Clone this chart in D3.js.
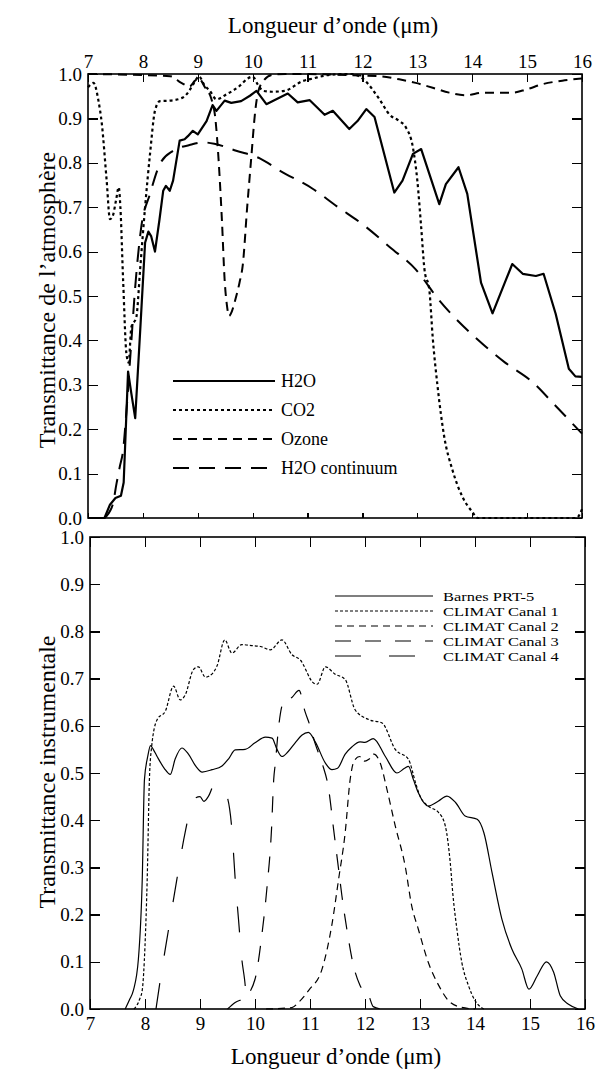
<!DOCTYPE html>
<html lang="fr">
<head>
<meta charset="UTF-8">
<title>Transmittance</title>
<script src="https://d3js.org/d3.v7.min.js"></script>
<style>
    body { margin: 0; background: #fff; }
    svg { display: block; font-family: "Liberation Serif", "DejaVu Serif", "Times New Roman", Times, serif; }
    .axis path { display: none; }
    .axis line { stroke: #000; stroke-width: 1.2; shape-rendering: crispEdges; }
    .axis text { font-family: "Liberation Serif", "DejaVu Serif", "Times New Roman", Times, serif; font-size: 19px; fill: #000; }
    .frame { fill: none; stroke: #000; stroke-width: 1.6; }
</style>
</head>
<body>
<script>
    // graduations
    const xTicks = [7, 8, 9, 10, 11, 12, 13, 14, 15, 16];
    const yTicks = [0, 0.1, 0.2, 0.3, 0.4, 0.5, 0.6, 0.7, 0.8, 0.9, 1.0];

    // panneau du haut : transmittance de l'atmosphère [longueur d'onde, transmittance]
    const h2o = [[7,0],[7.3,0],[7.4,0.03],[7.5,0.045],[7.6,0.05],[7.65,0.08],[7.73,0.33],[7.79,0.28],[7.86,0.225],
        [7.95,0.42],[8.04,0.62],[8.1,0.645],[8.15,0.635],[8.22,0.6],[8.3,0.67],[8.37,0.737],[8.42,0.748],[8.49,0.737],
        [8.55,0.76],[8.67,0.85],[8.76,0.853],[8.82,0.86],[8.91,0.872],[9.0,0.864],[9.16,0.894],[9.27,0.93],[9.34,0.917],
        [9.49,0.94],[9.61,0.935],[9.79,0.939],[9.95,0.951],[10.07,0.962],[10.25,0.932],[10.43,0.943],[10.64,0.956],
        [10.82,0.936],[11.04,0.941],[11.19,0.923],[11.31,0.908],[11.46,0.917],[11.76,0.876],[11.91,0.894],[12.07,0.921],
        [12.22,0.903],[12.58,0.733],[12.73,0.76],[12.92,0.82],[13.07,0.831],[13.4,0.707],[13.52,0.752],[13.75,0.79],
        [13.91,0.73],[14.16,0.53],[14.37,0.461],[14.61,0.535],[14.73,0.572],[14.92,0.55],[15.16,0.545],[15.3,0.55],
        [15.52,0.46],[15.76,0.336],[15.88,0.319],[16,0.318]];
    const co2 = [[7,0.97],[7.1,0.98],[7.19,0.94],[7.25,0.89],[7.34,0.76],[7.4,0.673],[7.45,0.68],[7.51,0.715],
        [7.56,0.745],[7.59,0.7],[7.64,0.535],[7.7,0.37],[7.74,0.35],[7.79,0.43],[7.88,0.452],[7.95,0.56],[8.0,0.64],
        [8.04,0.7],[8.13,0.82],[8.22,0.917],[8.31,0.939],[8.49,0.94],[8.73,0.947],[8.88,0.969],[8.97,0.988],[9.02,0.995],
        [9.12,0.975],[9.22,0.962],[9.34,0.943],[9.52,0.954],[9.76,0.973],[9.91,0.99],[10.0,0.994],[10.1,0.975],
        [10.19,0.962],[10.35,0.96],[10.58,0.962],[10.91,0.984],[11.1,0.99],[11.4,0.998],[11.8,1.0],[12.0,0.99],
        [12.31,0.943],[12.49,0.909],[12.67,0.894],[12.79,0.88],[12.92,0.834],[13.0,0.76],[13.07,0.655],[13.13,0.56],
        [13.22,0.512],[13.28,0.407],[13.37,0.295],[13.49,0.183],[13.64,0.108],[13.82,0.048],[14.0,0.014],[14.1,0],
        [15.9,0],[16,0.02]];
    const ozone = [[7,1.0],[8.5,0.995],[8.7,0.98],[8.85,0.972],[8.95,0.985],[9.02,0.99],[9.13,0.97],[9.25,0.943],
        [9.32,0.9],[9.38,0.805],[9.44,0.67],[9.49,0.535],[9.53,0.48],[9.57,0.455],[9.62,0.465],[9.68,0.49],[9.76,0.53],
        [9.82,0.57],[9.9,0.7],[9.97,0.805],[10.05,0.92],[10.1,0.96],[10.2,0.985],[10.35,0.998],[10.6,1.0],[12.3,0.995],
        [12.67,0.988],[12.97,0.98],[13.28,0.969],[13.58,0.958],[13.88,0.952],[14.2,0.958],[14.73,0.958],[14.98,0.965],
        [15.28,0.977],[15.64,0.985],[16,0.99]];
    const continuum = [[7.3,0],[7.45,0.03],[7.52,0.078],[7.58,0.116],[7.64,0.153],[7.7,0.24],[7.78,0.38],[7.86,0.52],
        [7.97,0.655],[8.13,0.73],[8.31,0.797],[8.55,0.827],[8.85,0.84],[9.1,0.846],[9.3,0.843],[9.7,0.827],[10.13,0.81],
        [10.5,0.782],[11.1,0.741],[11.5,0.705],[12.07,0.655],[12.5,0.61],[12.97,0.56],[13.4,0.49],[14.19,0.392],
        [14.6,0.35],[15.1,0.306],[15.5,0.255],[16,0.19]];

    // panneau du bas : transmittance instrumentale
    const barnes = [[7.64,0],[7.72,0.02],[7.79,0.04],[7.88,0.106],[7.95,0.275],[7.99,0.486],[8.05,0.535],[8.1,0.558],
        [8.15,0.55],[8.22,0.535],[8.35,0.51],[8.46,0.497],[8.55,0.53],[8.67,0.553],[8.79,0.54],[8.92,0.515],[9.04,0.502],
        [9.22,0.507],[9.4,0.515],[9.52,0.53],[9.64,0.549],[9.82,0.55],[10.0,0.564],[10.19,0.576],[10.31,0.574],
        [10.4,0.55],[10.49,0.535],[10.6,0.545],[10.73,0.564],[10.85,0.58],[10.97,0.586],[11.1,0.565],[11.28,0.521],
        [11.4,0.507],[11.5,0.51],[11.64,0.54],[11.76,0.555],[11.91,0.566],[12.0,0.565],[12.15,0.573],[12.37,0.535],
        [12.58,0.5],[12.72,0.51],[12.79,0.514],[12.88,0.486],[12.97,0.458],[13.15,0.43],[13.33,0.44],[13.49,0.451],
        [13.65,0.437],[13.82,0.409],[14.04,0.402],[14.16,0.374],[14.31,0.289],[14.49,0.19],[14.67,0.127],[14.85,0.085],
        [14.98,0.042],[15.13,0.07],[15.3,0.1],[15.43,0.078],[15.55,0.028],[15.7,0.01],[15.88,0]];
    const canal1 = [[7.8,0],[7.9,0.02],[7.95,0.04],[8.0,0.134],[8.04,0.275],[8.08,0.486],[8.12,0.555],[8.22,0.613],
        [8.37,0.631],[8.52,0.684],[8.64,0.655],[8.73,0.665],[8.88,0.719],[8.97,0.725],[9.1,0.703],[9.16,0.705],
        [9.31,0.727],[9.45,0.782],[9.58,0.754],[9.76,0.772],[9.94,0.77],[10.1,0.768],[10.28,0.761],[10.49,0.782],
        [10.67,0.751],[10.82,0.74],[11.07,0.69],[11.13,0.688],[11.28,0.725],[11.45,0.71],[11.64,0.698],[11.82,0.634],
        [12.07,0.613],[12.31,0.606],[12.55,0.55],[12.79,0.529],[12.92,0.479],[13.0,0.451],[13.15,0.43],[13.34,0.416],
        [13.46,0.388],[13.55,0.31],[13.6,0.24],[13.67,0.17],[13.76,0.099],[13.88,0.05],[14.0,0.018],[14.16,0]];
    const canal2 = [[10.2,0],[10.67,0.003],[10.8,0.015],[10.98,0.04],[11.22,0.085],[11.4,0.18],[11.52,0.275],
        [11.64,0.374],[11.73,0.486],[11.8,0.525],[11.9,0.535],[12.0,0.525],[12.07,0.529],[12.16,0.54],[12.28,0.52],
        [12.4,0.465],[12.55,0.388],[12.73,0.303],[12.85,0.218],[12.97,0.169],[13.15,0.099],[13.34,0.05],[13.5,0.02],
        [13.7,0.005],[14.0,0]];
    const canal3 = [[9.5,0],[9.64,0.014],[9.82,0.025],[10.0,0.063],[10.13,0.162],[10.22,0.26],[10.3,0.38],
        [10.34,0.486],[10.37,0.521],[10.43,0.598],[10.52,0.651],[10.67,0.66],[10.8,0.675],[10.91,0.63],[11.0,0.6],
        [11.1,0.56],[11.22,0.521],[11.34,0.465],[11.43,0.38],[11.52,0.296],[11.58,0.24],[11.67,0.169],[11.79,0.092],
        [11.91,0.05],[12.07,0.028],[12.15,0.005],[12.3,0]];
    const canal4 = [[8.2,0],[8.28,0.063],[8.43,0.17],[8.58,0.275],[8.73,0.374],[8.88,0.444],[9.0,0.45],[9.07,0.44],
        [9.15,0.45],[9.28,0.479],[9.38,0.47],[9.49,0.451],[9.58,0.38],[9.64,0.275],[9.7,0.19],[9.76,0.106],
        [9.81,0.063],[9.85,0.02],[9.9,0]];

    const width = 596, height = 1073;
    const svg = d3.select('body').append('svg').attr('width', width).attr('height', height);

    // echelles
    const xTop = d3.scaleLinear().domain([7, 16]).range([88, 582]);
    const yTop = d3.scaleLinear().domain([0, 1]).range([518, 74]);
    const xBot = d3.scaleLinear().domain([7, 16]).range([90, 585]);
    const yBot = d3.scaleLinear().domain([0, 1]).range([1009, 537]);

    const fmt = d3.format('.1f');

    function drawAxes(x, y, labelTop) {
        svg.append('g').attr('class', 'axis').attr('transform', 'translate(0,' + y.range()[1] + ')')
            .call(d3.axisTop(x).tickValues(xTicks).tickSizeInner(labelTop ? -8 : -10).tickSizeOuter(0).tickPadding(6)
                .tickFormat(labelTop ? d3.format('d') : ''));
        svg.append('g').attr('class', 'axis').attr('transform', 'translate(0,' + y.range()[0] + ')')
            .call(d3.axisBottom(x).tickValues(xTicks).tickSizeInner(labelTop ? -5 : -10).tickSizeOuter(0).tickPadding(8)
                .tickFormat(labelTop ? '' : d3.format('d')));
        svg.append('g').attr('class', 'axis').attr('transform', 'translate(' + x.range()[0] + ',0)')
            .call(d3.axisLeft(y).tickValues(yTicks).tickSizeInner(-10).tickSizeOuter(0).tickPadding(6).tickFormat(fmt));
        svg.append('g').attr('class', 'axis').attr('transform', 'translate(' + x.range()[1] + ',0)')
            .call(d3.axisRight(y).tickValues(yTicks).tickSizeInner(-10).tickSizeOuter(0).tickFormat(''));
        svg.append('rect').attr('class', 'frame')
            .attr('x', x.range()[0]).attr('y', y.range()[1])
            .attr('width', x.range()[1] - x.range()[0]).attr('height', y.range()[0] - y.range()[1]);
    }

    drawAxes(xTop, yTop, true);
    drawAxes(xBot, yBot, false);

    // courbes
    function drawLine(data, x, y, dash, w, curve) {
        const line = d3.line().x(d => x(d[0])).y(d => y(d[1])).curve(curve || d3.curveLinear);
        svg.append('path').datum(data)
            .attr('d', line)
            .attr('fill', 'none')
            .attr('stroke', '#000')
            .attr('stroke-width', w)
            .attr('stroke-dasharray', dash)
            .attr('stroke-linejoin', 'round');
    }

    const topSeries = [
        {name: 'H2O', data: h2o, dash: null, w: 2.2, curve: d3.curveLinear},
        {name: 'CO2', data: co2, dash: '3,3', w: 2.2, curve: d3.curveMonotoneX},
        {name: 'Ozone', data: ozone, dash: '9,6', w: 2, curve: d3.curveMonotoneX},
        {name: 'H2O continuum', data: continuum, dash: '16,10', w: 2, curve: d3.curveMonotoneX}
    ];
    const botSeries = [
        {name: 'Barnes PRT-5', data: barnes, dash: null, w: 1.2},
        {name: 'CLIMAT Canal 1', data: canal1, dash: '3,2', w: 1.2},
        {name: 'CLIMAT Canal 2', data: canal2, dash: '7,5', w: 1.2},
        {name: 'CLIMAT Canal 3', data: canal3, dash: '16,14', w: 1.2},
        {name: 'CLIMAT Canal 4', data: canal4, dash: '26,28', w: 1.2}
    ];

    topSeries.forEach(s => drawLine(s.data, xTop, yTop, s.dash, s.w, s.curve));
    botSeries.forEach(s => drawLine(s.data, xBot, yBot, s.dash, s.w, d3.curveMonotoneX));

    // legendes
    const legTop = svg.append('g');
    topSeries.forEach((s, i) => {
        const yy = 381 + i * 29;
        legTop.append('line').attr('x1', 173).attr('x2', 275).attr('y1', yy).attr('y2', yy)
            .attr('stroke', '#000').attr('stroke-width', s.w).attr('stroke-dasharray', s.dash);
        legTop.append('text').attr('x', 281).attr('y', yy).attr('dy', '0.35em')
            .attr('font-size', 18).text(s.name);
    });
    // texte serre verticalement comme dans l'original : police plus petite, etiree en largeur
    const legBot = svg.append('g');
    botSeries.forEach((s, i) => {
        const yy = 596 + i * 15;
        legBot.append('line').attr('x1', 335).attr('x2', 433).attr('y1', yy).attr('y2', yy)
            .attr('stroke', '#000').attr('stroke-width', s.w).attr('stroke-dasharray', s.dash);
        legBot.append('text').attr('transform', 'translate(443,' + yy + ') scale(1.22,1)')
            .attr('dy', '0.35em').attr('font-size', 13.5).text(s.name);
    });

    // titres
    svg.append('text').attr('x', 333).attr('y', 33).attr('text-anchor', 'middle')
        .attr('font-size', 23).text('Longueur d’onde (μm)');
    svg.append('text').attr('x', 336).attr('y', 1064).attr('text-anchor', 'middle')
        .attr('font-size', 23).text('Longueur d’onde (μm)');
    svg.append('text').attr('transform', 'translate(55,300) rotate(-90)').attr('text-anchor', 'middle')
        .attr('font-size', 24).text('Transmittance de l’atmosphère');
    svg.append('text').attr('transform', 'translate(55,772) rotate(-90)').attr('text-anchor', 'middle')
        .attr('font-size', 24).text('Transmittance instrumentale');
</script>
</body>
</html>
